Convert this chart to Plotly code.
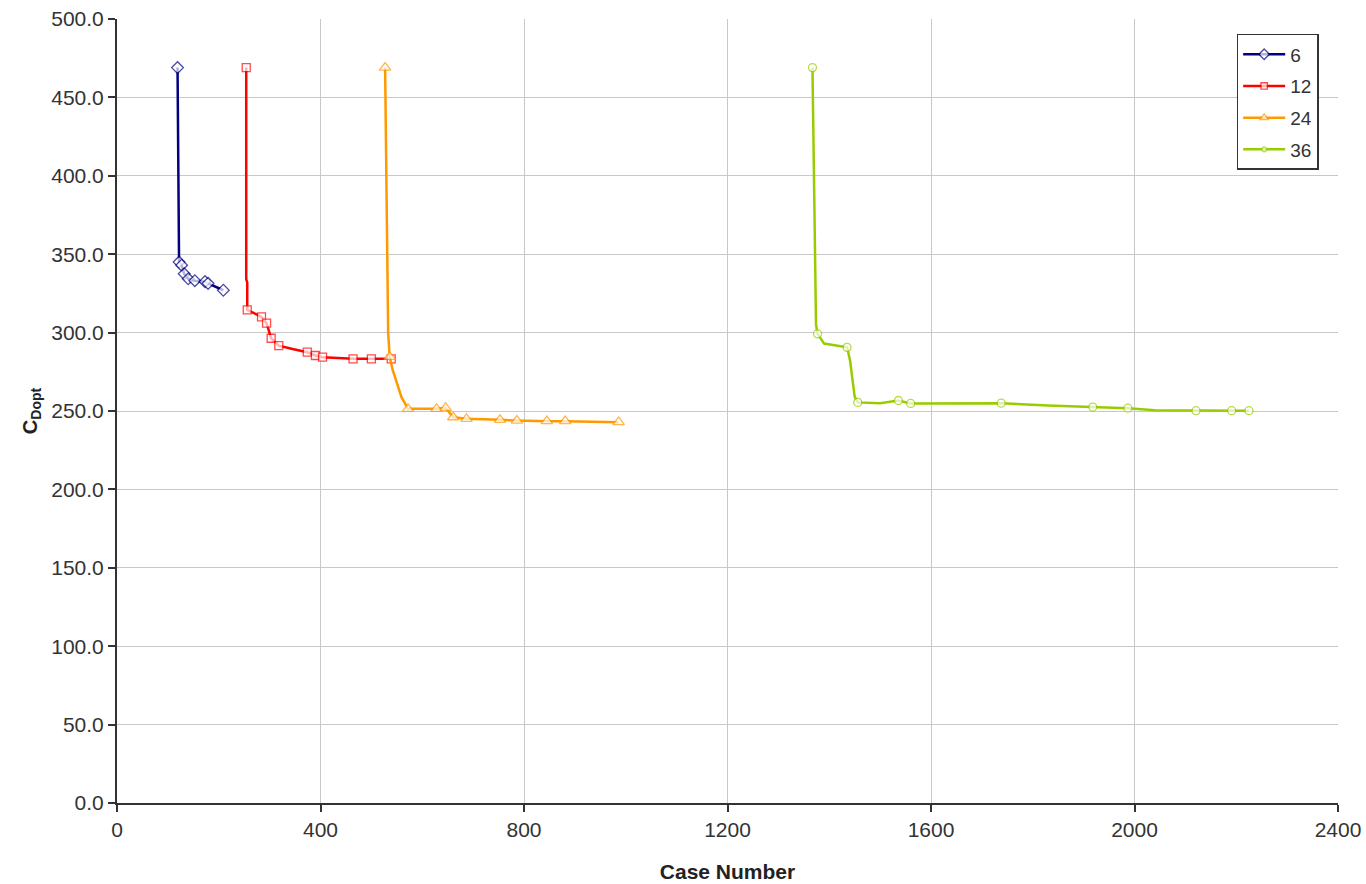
import plotly.graph_objects as go

# ---- data ----
series_names = ["6", "12", "24", "36"]

x6 = [119, 121, 122, 127, 132, 140, 153, 173, 179, 209]
y6 = [469, 400, 345, 343, 337.5, 334.3, 333.1, 332.5, 331.4, 327]
m6 = [True, False, True, True, True, True, True, True, True, True]

x12 = [254, 254, 256, 256, 284, 294, 303, 318, 345, 374, 390, 404, 464, 500, 539]
y12 = [469, 334, 332, 314.5, 310, 306, 296.4, 291.7, 289.6, 287.5, 285.4, 284.3, 283.3, 283.3, 283.3]
m12 = [True, False, False, True, True, True, True, True, False, True, True, True, True, True, True]

x24 = [527, 530, 533, 536, 542, 559, 572, 628, 646, 661, 687, 753, 786, 845, 881, 986]
y24 = [469, 400, 300, 284.5, 276, 259, 251.4, 251.4, 252, 246, 245, 244.4, 243.9, 243.5, 243.5, 242.9]
m24 = [True, False, False, True, False, False, True, True, True, True, True, True, True, True, True, True]

x36 = [1367, 1370, 1374, 1377, 1390, 1435, 1441, 1450, 1456, 1500, 1536, 1560, 1738,
       1830, 1918, 1987, 2040, 2121, 2191, 2225]
y36 = [469, 400, 305, 299.2, 293, 290.6, 282, 259, 255.5, 255, 256.7, 254.8, 255,
       253.5, 252.5, 251.8, 250.5, 250.2, 250.2, 250.2]
m36 = [True, False, False, True, False, True, False, False, True, False, True, True, True,
       False, True, True, False, True, True, True]

x_ticks = [0, 400, 800, 1200, 1600, 2000, 2400]
y_ticks = [0, 50, 100, 150, 200, 250, 300, 350, 400, 450, 500]

# ---- styles ----
styles = [
    dict(color="#000080", symbol="diamond", size=9),
    dict(color="#FF0000", symbol="square", size=8),
    dict(color="#FF9900", symbol="triangle-up", size=10),
    dict(color="#99CC00", symbol="circle", size=8),
]

fig = go.Figure()
for name, xs, ys, ms, st in zip(series_names, [x6, x12, x24, x36], [y6, y12, y24, y36],
                                [m6, m12, m24, m36], styles):
    fig.add_trace(go.Scatter(
        x=xs, y=ys, name=name, mode="lines+markers",
        legendgroup=name,
        line=dict(color=st["color"], width=2.5),
        marker=dict(symbol=st["symbol"], size=[st["size"] if m else 0 for m in ms],
                    color="white", line=dict(color=st["color"], width=1.3)),
        hoverinfo="skip",
    ))

font_family = "Liberation Sans, Arial, sans-serif"
fig.update_layout(
    width=1366, height=884,
    margin=dict(l=117, r=28, t=19, b=81),
    paper_bgcolor="white", plot_bgcolor="white",
    font=dict(family=font_family, color="#222222", size=20),
    showlegend=True,
    legend=dict(
        x=0.917, y=0.981, xanchor="left", yanchor="top",
        bordercolor="#333333", borderwidth=1.5, bgcolor="white",
        font=dict(size=19, color="#333333"),
        traceorder="grouped", tracegroupgap=4,
        itemwidth=42,
    ),
    xaxis=dict(
        range=[0, 2400], tickvals=x_ticks, ticktext=[str(v) for v in x_ticks],
        automargin=False,
        showgrid=True, gridcolor="#C8C8C8", gridwidth=1.3,
        showline=True, linecolor="#333333", linewidth=2,
        ticks="outside", ticklen=7, tickcolor="#333333", tickwidth=2,
        tickfont=dict(size=21, color="#333333"),
        title=dict(text="<b>Case Number</b>", font=dict(size=21, color="#222222"), standoff=24),
        zeroline=False,
    ),
    yaxis=dict(
        range=[0, 500], tickvals=y_ticks, ticktext=["%.1f" % v for v in y_ticks],
        automargin=False,
        showgrid=True, gridcolor="#C8C8C8", gridwidth=1.3,
        showline=True, linecolor="#333333", linewidth=2,
        ticks="outside", ticklen=7, tickcolor="#333333", tickwidth=2,
        tickfont=dict(size=21, color="#333333"),
        title=dict(text="<b>C<sub>Dopt</sub></b>", font=dict(size=20, color="#222222"), standoff=8),
        zeroline=False,
    ),
)

fig.write_html("out.html")
